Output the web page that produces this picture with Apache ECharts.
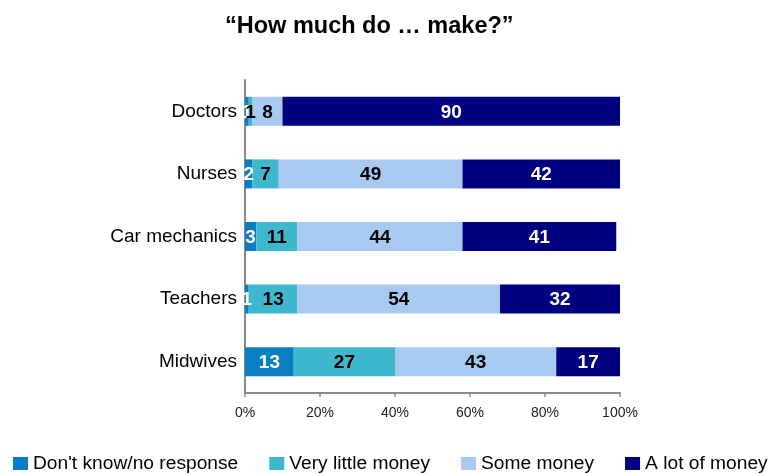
<!DOCTYPE html>
<html>
<head>
<meta charset="utf-8">
<title>How much do … make?</title>
<script src="https://cdn.jsdelivr.net/npm/echarts@6/dist/echarts.min.js"></script>
<style>
  html, body { margin: 0; padding: 0; background: #ffffff; }
  #chart { width: 771px; height: 474px; }
</style>
</head>
<body>
<div id="chart"></div>
<script>
// Occupations, listed top to bottom
const categories = ['Doctors', 'Nurses', 'Car mechanics', 'Teachers', 'Midwives'];

// Share of answers (%) per occupation
const dontKnow   = [1, 2, 3, 1, 13];
const veryLittle = [1, 7, 11, 13, 27];
const someMoney  = [8, 49, 44, 54, 43];
const aLotMoney  = [90, 42, 41, 32, 17];

const seriesNames = ["Don't know/no response", 'Very little money', 'Some money', 'A lot of money'];
const xTicks = [0, 20, 40, 60, 80, 100];

const FONT = "'Liberation Sans', Arial, sans-serif";
const colors = ['#0A7EC2', '#3FB7CF', '#A8CAF0', '#000080'];
const labelColors = ['#ffffff', '#000000', '#000000', '#ffffff'];
const values = [dontKnow, veryLittle, someMoney, aLotMoney];

const chart = echarts.init(document.getElementById('chart'), null, { renderer: 'canvas' });

chart.setOption({
  animation: false,
  backgroundColor: '#ffffff',
  title: {
    text: '\u201cHow much do \u2026 make?\u201d',
    left: 225,
    top: 12,
    padding: 0,
    textStyle: {
      fontFamily: FONT,
      fontSize: 23.5,
      fontWeight: 'bold',
      color: '#000000',
      lineHeight: 30
    }
  },
  legend: {
    left: 13,
    top: 453,
    width: 771,
    padding: 0,
    itemWidth: 15,
    itemHeight: 13,
    itemGap: 31,
    icon: 'rect',
    selectedMode: false,
    textStyle: {
      fontFamily: FONT,
      fontSize: 19.2,
      color: '#000000',
      lineHeight: 21
    },
    data: seriesNames
  },
  grid: {
    left: 245,
    right: 151,
    top: 80,
    bottom: 81,
    containLabel: false
  },
  xAxis: {
    type: 'value',
    min: xTicks[0],
    max: xTicks[xTicks.length - 1],
    interval: xTicks[1] - xTicks[0],
    splitLine: { show: false },
    axisLine: { show: true, lineStyle: { color: '#8a8a8a', width: 2 } },
    axisTick: { show: true, length: 4, lineStyle: { color: '#8a8a8a', width: 1.5 } },
    axisLabel: {
      formatter: '{value}%',
      fontFamily: FONT,
      fontSize: 14,
      lineHeight: 14,
      color: '#222222',
      margin: 13
    }
  },
  yAxis: {
    type: 'category',
    inverse: true,
    data: categories,
    axisLine: { show: true, lineStyle: { color: '#8a8a8a', width: 2 } },
    axisTick: { show: false },
    axisLabel: {
      fontFamily: FONT,
      fontSize: 19,
      color: '#000000',
      margin: 8,
      padding: [0, 0, 5, 0]
    }
  },
  series: seriesNames.map((name, i) => ({
    name: name,
    type: 'bar',
    stack: 'total',
    barWidth: 29,
    data: values[i],
    itemStyle: { color: colors[i] },
    label: {
      show: true,
      position: 'inside',
      fontFamily: FONT,
      fontSize: 19,
      fontWeight: 'bold',
      color: labelColors[i],
      offset: [0, 1],
      formatter: '{c}'
    }
  }))
});
</script>
</body>
</html>
